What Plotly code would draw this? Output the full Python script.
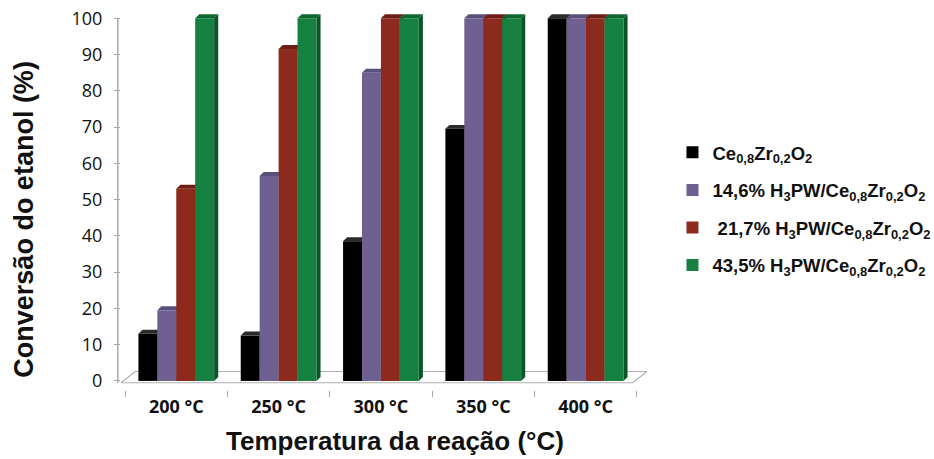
import plotly.graph_objects as go

categories = ["200 °C", "250 °C", "300 °C", "350 °C", "400 °C"]
series_names = [
    "<b>Ce<sub>0,8</sub>Zr<sub>0,2</sub>O<sub>2</sub></b>",
    "<b>14,6% H<sub>3</sub>PW/Ce<sub>0,8</sub>Zr<sub>0,2</sub>O<sub>2</sub></b>",
    "<b> 21,7% H<sub>3</sub>PW/Ce<sub>0,8</sub>Zr<sub>0,2</sub>O<sub>2</sub></b>",
    "<b>43,5% H<sub>3</sub>PW/Ce<sub>0,8</sub>Zr<sub>0,2</sub>O<sub>2</sub></b>",
]
ce_zr = [13, 12.5, 38.5, 69.5, 100]
h3pw_146 = [19.5, 56.5, 85, 100, 100]
h3pw_217 = [53, 91.5, 100, 100, 100]
h3pw_435 = [100, 100, 100, 100, 100]
values = [ce_zr, h3pw_146, h3pw_217, h3pw_435]

front_colors = ["#000000", "#6e6090", "#8c2a1e", "#158040"]
side_colors = ["#1c1c1c", "#4b4068", "#5c170f", "#0b5426"]
top_colors = ["#2a2a2a", "#5a4f7a", "#6e1f15", "#0f6630"]

bargap = 0.26
n = len(values)
bw = (1 - bargap) / n
dx = 0.04   # depth offset in category units
dy = 1.1    # depth offset in value units

fig = go.Figure()
for i, (name, vals) in enumerate(zip(series_names, values)):
    fig.add_trace(go.Bar(
        x=categories, y=vals, name=name, marker_color=front_colors[i],
        marker_line_width=0, legendgroup=str(i),
    ))

shapes = []
# floor
shapes.append(dict(type="path", xref="x", yref="y", layer="below",
                   path="M -0.54 -0.5 L 4.46 -0.5 L 4.6 2.6 L -0.4 2.6 Z",
                   line=dict(color="#b0b0b0", width=1.2), fillcolor="rgba(0,0,0,0)"))
# 3D faces of bars
for i, vals in enumerate(values):
    for k, v in enumerate(vals):
        x0 = k - (1 - bargap) / 2 + i * bw
        x1 = x0 + bw
        side = f"M {x1} 0 L {x1+dx} {dy} L {x1+dx} {v+dy} L {x1} {v} Z"
        top = f"M {x0} {v} L {x0+dx} {v+dy} L {x1+dx} {v+dy} L {x1} {v} Z"
        shapes.append(dict(type="path", xref="x", yref="y", layer="below", path=side,
                           fillcolor=side_colors[i], line=dict(width=0)))
        shapes.append(dict(type="path", xref="x", yref="y", layer="below", path=top,
                           fillcolor=top_colors[i], line=dict(width=0)))
# y axis line
shapes.append(dict(type="line", xref="paper", yref="y", x0=-0.006, x1=-0.006, y0=-0.5, y1=100,
                   line=dict(color="#a8a8a8", width=1.5), layer="below"))

annotations = [
    dict(text="<b>Temperatura da reação (°C)</b>", xref="paper", yref="paper",
         x=0.52, y=-0.18, xanchor="center", yanchor="bottom", showarrow=False,
         font=dict(size=26, color="#111111")),
    dict(text="<b>Conversão do etanol (%)</b>", xref="paper", yref="paper",
         x=-0.184, y=0.45, xanchor="center", yanchor="middle", showarrow=False,
         textangle=-90, font=dict(size=27, color="#111111")),
]

fig.update_layout(
    width=934, height=459,
    margin=dict(l=121, r=287, t=11, b=69, autoexpand=False),
    plot_bgcolor="white", paper_bgcolor="white",
    barmode="group", bargap=bargap, bargroupgap=0,
    shapes=shapes, annotations=annotations,
    font=dict(family="Liberation Sans, Arial, sans-serif", color="#111111"),
    legend=dict(xref="container", yref="container", x=0.72, xanchor="left",
                y=0.545, yanchor="middle",
                font=dict(size=18.5, color="#111111"), traceorder="grouped",
                tracegroupgap=10.5, itemwidth=30, bgcolor="rgba(0,0,0,0)"),
    xaxis=dict(range=[-0.54, 4.6], showgrid=False, zeroline=False, showline=False,
               ticks="outside", tickson="boundaries", ticklen=6, tickcolor="#a8a8a8",
               tickfont=dict(size=18, family="Open Sans, sans-serif"),
               ticklabelstandoff=4, automargin=False,
               tickprefix="<b>", ticksuffix="</b>"),
    yaxis=dict(range=[-2.5, 102], tickvals=list(range(0, 101, 10)), showgrid=False,
               zeroline=False, showline=False, ticks="outside", ticklen=6,
               tickcolor="#a8a8a8", tickfont=dict(size=18, family="Open Sans, sans-serif"),
               ticklabelstandoff=8, automargin=False,
               tickprefix="<b>", ticksuffix="</b>"),
)

fig.write_html("out.html")
